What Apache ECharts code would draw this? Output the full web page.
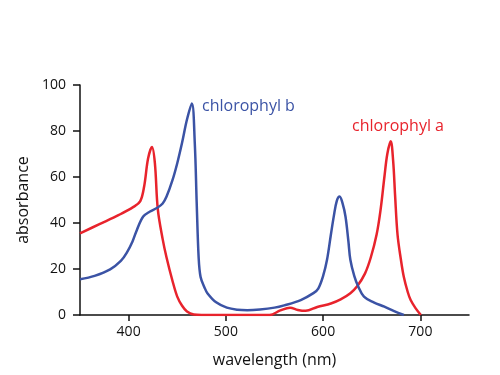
<!DOCTYPE html>
<html>
<head>
<meta charset="utf-8">
<script src="https://cdn.jsdelivr.net/npm/echarts@6/dist/echarts.min.js"></script>
<style>
  html, body { margin: 0; padding: 0; background: #fff; }
  #chart { width: 500px; height: 375px; }
</style>
</head>
<body>
<div id="chart"></div>
<script>
// wavelength (nm) / absorbance pairs
const chlA = [
  [350, 35.5], [370, 39.5], [390, 43.5], [405, 47], [412, 49.5], [416, 56],
  [420, 68], [424, 73], [427, 66], [430, 46], [435, 33], [439, 25], [445, 15],
  [450, 8], [455, 4], [460, 1.5], [467, 0.2], [475, 0], [545, 0], [556, 2],
  [566, 3.2], [574, 2.2], [582, 1.8], [594, 3.5], [608, 5], [618, 6.8],
  [628, 9.5], [635, 12.5], [643, 18], [649, 25], [655, 35], [659, 45.5],
  [663, 60], [666, 70], [669.5, 75.5], [672, 67], [674, 52], [676.5, 35],
  [680, 24], [683, 16.5], [687, 10], [690, 6.5], [695, 3], [700.5, 0]
];
const chlB = [
  [350, 15.5], [365, 17], [381, 19.8], [392, 23.5], [398, 27], [404, 32],
  [408.5, 37], [415, 42.8], [422, 45], [429, 46.5], [435, 48.5], [439, 51.5],
  [445, 58.5], [450, 66], [455, 75], [460, 85], [465, 92], [468, 75],
  [470, 48.7], [472, 25], [474, 16.5], [478, 12], [481, 9.5], [490, 5.5],
  [501, 3.2], [512, 2.3], [522, 2.1], [535, 2.4], [550, 3.2], [560, 4.2],
  [577, 6.5], [590, 9.5], [595, 11.5], [600, 17], [604, 24], [608, 35],
  [611, 43], [614, 49.5], [617, 51.5], [620, 48.5], [623, 42.8], [626, 32],
  [628, 24], [632, 17], [636, 12.5], [642, 8], [652, 5.5], [663, 3.6],
  [673, 1.7], [683, 0]
];
const xTicks = [400, 500, 600, 700];

const chart = echarts.init(document.getElementById('chart'));
const font = '"Open Sans", sans-serif';
const red = '#e8232c';
const blue = '#3b53a5';

chart.setOption({
  animation: false,
  grid: { left: 80, right: 31, top: 85, bottom: 60 },
  xAxis: {
    type: 'value',
    min: 350,
    max: 750,
    name: 'wavelength (nm)',
    nameLocation: 'middle',
    nameGap: 37,
    nameTextStyle: { fontFamily: font, fontSize: 16, color: '#111' },
    splitLine: { show: false },
    axisLine: { show: true, lineStyle: { color: '#111', width: 1.5 } },
    axisTick: { show: true, length: 6, customValues: xTicks, lineStyle: { color: '#111', width: 1.5 } },
    axisLabel: { customValues: xTicks, fontFamily: font, fontSize: 14, color: '#111', margin: 10 }
  },
  yAxis: {
    type: 'value',
    min: 0,
    max: 100,
    interval: 20,
    name: 'absorbance',
    nameLocation: 'middle',
    nameGap: 46,
    nameTextStyle: { fontFamily: font, fontSize: 16, color: '#111' },
    splitLine: { show: false },
    axisLine: { show: true, lineStyle: { color: '#111', width: 1.5 } },
    axisTick: { show: true, length: 7, lineStyle: { color: '#111', width: 1.5 } },
    axisLabel: { fontFamily: font, fontSize: 14, color: '#111', margin: 14 }
  },
  graphic: [
    { type: 'text', left: 202, top: 98,
      style: { text: 'chlorophyl b', fill: blue, font: '16px ' + font } },
    { type: 'text', left: 352, top: 118,
      style: { text: 'chlorophyl a', fill: red, font: '16px ' + font } }
  ],
  series: [
    {
      name: 'chlorophyl a', type: 'line', data: chlA, showSymbol: false,
      smooth: 0.35,
      lineStyle: { color: red, width: 2.5 }
    },
    {
      name: 'chlorophyl b', type: 'line', data: chlB, showSymbol: false,
      smooth: 0.35,
      lineStyle: { color: blue, width: 2.5 }
    }
  ]
});
</script>
</body>
</html>
